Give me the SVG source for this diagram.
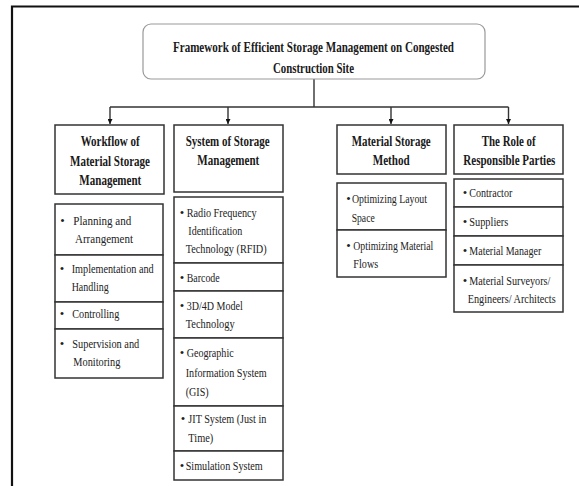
<svg xmlns="http://www.w3.org/2000/svg" width="579" height="486" viewBox="0 0 579 486">
<defs>
<style>
.frame{fill:none;stroke:#111;stroke-width:2.2}
.title{fill:#fff;stroke:#999;stroke-width:1.2}
.box{fill:#fff;stroke:#333;stroke-width:1.5}
.hd{font-family:"Liberation Serif","Times New Roman",serif;font-weight:bold;font-size:14.5px;fill:#1a1a1a}
.tx{font-family:"Liberation Serif","Times New Roman",serif;font-size:12.8px;fill:#222}
.bl{font-family:"Liberation Serif","Times New Roman",serif;font-size:12.8px;fill:#222;text-anchor:middle}
.ln{fill:none;stroke:#333;stroke-width:1.4}
</style>
<marker id="arr" viewBox="0 0 8 8" refX="8" refY="4" markerWidth="5" markerHeight="5" orient="auto" markerUnits="userSpaceOnUse">
<path d="M0,0 L8,4 L0,8 z" fill="#111"/>
</marker>
</defs>
<rect x="0" y="0" width="579" height="486" fill="#fff"/>
<path class="frame" d="M12,486 V6.5 H579"/>

<g id="connectors">
<path class="ln" d="M314,79 V107"/>
<path class="ln" d="M110,107 H508.5"/>
<path class="ln" d="M110,107 V124" marker-end="url(#arr)"/>
<path class="ln" d="M228,107 V124" marker-end="url(#arr)"/>
<path class="ln" d="M391,107 V124" marker-end="url(#arr)"/>
<path class="ln" d="M508.5,107 V124" marker-end="url(#arr)"/>
</g>

<g id="title">
<rect class="title" x="143" y="24" width="342" height="55" rx="8"/>
<text class="hd" x="173" y="52" textLength="281" lengthAdjust="spacingAndGlyphs">Framework of Efficient Storage Management on Congested</text>
<text class="hd" x="273" y="72.5" textLength="81" lengthAdjust="spacingAndGlyphs">Construction Site</text>
</g>

<g id="workflow">
<rect class="box" x="55" y="125" width="109" height="69"/>
<text class="hd" x="80.7" y="145.5" textLength="59" lengthAdjust="spacingAndGlyphs">Workflow of</text>
<text class="hd" x="70" y="165.5" textLength="80" lengthAdjust="spacingAndGlyphs">Material Storage</text>
<text class="hd" x="79.3" y="184.5" textLength="62" lengthAdjust="spacingAndGlyphs">Management</text>
</g>
<g id="workflow-items">
<rect class="box" x="55" y="204" width="108" height="51"/>
<rect class="box" x="55" y="255" width="108" height="47"/>
<rect class="box" x="55" y="302" width="108" height="27"/>
<rect class="box" x="55" y="329" width="108" height="49"/>
<text class="bl" x="62.5" y="225">•</text>
<text class="tx" x="73.3" y="225" textLength="58" lengthAdjust="spacingAndGlyphs">Planning and</text>
<text class="tx" x="75" y="243.3" textLength="58" lengthAdjust="spacingAndGlyphs">Arrangement</text>
<text class="bl" x="62" y="272.7">•</text>
<text class="tx" x="71.7" y="272.7" textLength="82" lengthAdjust="spacingAndGlyphs">Implementation and</text>
<text class="tx" x="71.7" y="290.7" textLength="37" lengthAdjust="spacingAndGlyphs">Handling</text>
<text class="bl" x="62" y="318.3">•</text>
<text class="tx" x="72.3" y="318.3" textLength="47" lengthAdjust="spacingAndGlyphs">Controlling</text>
<text class="bl" x="62" y="347.7">•</text>
<text class="tx" x="72.3" y="347.7" textLength="67" lengthAdjust="spacingAndGlyphs">Supervision and</text>
<text class="tx" x="73.3" y="365.7" textLength="47" lengthAdjust="spacingAndGlyphs">Monitoring</text>
</g>

<g id="system">
<rect class="box" x="174" y="125" width="109" height="67"/>
<text class="hd" x="185.7" y="145.5" textLength="84" lengthAdjust="spacingAndGlyphs">System of Storage</text>
<text class="hd" x="197.3" y="165" textLength="62" lengthAdjust="spacingAndGlyphs">Management</text>
</g>
<g id="system-items">
<rect class="box" x="174" y="197" width="109" height="66"/>
<rect class="box" x="174" y="263" width="109" height="28"/>
<rect class="box" x="174" y="291" width="109" height="47"/>
<rect class="box" x="174" y="338" width="109" height="68"/>
<rect class="box" x="174" y="406" width="109" height="45"/>
<rect class="box" x="174" y="451" width="109" height="29"/>
<text class="bl" x="182" y="216.7">•</text>
<text class="tx" x="186.7" y="216.7" textLength="70" lengthAdjust="spacingAndGlyphs">Radio Frequency</text>
<text class="tx" x="188.3" y="235" textLength="54" lengthAdjust="spacingAndGlyphs">Identification</text>
<text class="tx" x="185.7" y="253.3" textLength="81" lengthAdjust="spacingAndGlyphs">Technology (RFID)</text>
<text class="bl" x="182" y="281.7">•</text>
<text class="tx" x="186.7" y="281.7" textLength="33" lengthAdjust="spacingAndGlyphs">Barcode</text>
<text class="bl" x="182" y="310">•</text>
<text class="tx" x="186.7" y="310" textLength="56" lengthAdjust="spacingAndGlyphs">3D/4D Model</text>
<text class="tx" x="185.7" y="328.3" textLength="49" lengthAdjust="spacingAndGlyphs">Technology</text>
<text class="bl" x="182" y="357.3">•</text>
<text class="tx" x="186.7" y="357.3" textLength="47" lengthAdjust="spacingAndGlyphs">Geographic</text>
<text class="tx" x="185.7" y="376.7" textLength="81" lengthAdjust="spacingAndGlyphs">Information System</text>
<text class="tx" x="185.7" y="395.7" textLength="23" lengthAdjust="spacingAndGlyphs">(GIS)</text>
<text class="bl" x="183" y="423.3">•</text>
<text class="tx" x="188.3" y="423.3" textLength="78" lengthAdjust="spacingAndGlyphs">JIT System (Just in</text>
<text class="tx" x="188.3" y="441.7" textLength="25" lengthAdjust="spacingAndGlyphs">Time)</text>
<text class="bl" x="182" y="470">•</text>
<text class="tx" x="185.7" y="470" textLength="77" lengthAdjust="spacingAndGlyphs">Simulation System</text>
</g>

<g id="method">
<rect class="box" x="337" y="125" width="109" height="49"/>
<text class="hd" x="351.7" y="146" textLength="79" lengthAdjust="spacingAndGlyphs">Material Storage</text>
<text class="hd" x="372.7" y="165" textLength="37" lengthAdjust="spacingAndGlyphs">Method</text>
</g>
<g id="method-items">
<rect class="box" x="337" y="183" width="109" height="47"/>
<rect class="box" x="337" y="230" width="109" height="47"/>
<text class="bl" x="348.5" y="203.3">•</text>
<text class="tx" x="352" y="203.3" textLength="75" lengthAdjust="spacingAndGlyphs">Optimizing Layout</text>
<text class="tx" x="351.7" y="221.7" textLength="23" lengthAdjust="spacingAndGlyphs">Space</text>
<text class="bl" x="348.5" y="250">•</text>
<text class="tx" x="353.3" y="250" textLength="80" lengthAdjust="spacingAndGlyphs">Optimizing Material</text>
<text class="tx" x="353.3" y="268.3" textLength="25" lengthAdjust="spacingAndGlyphs">Flows</text>
</g>

<g id="parties">
<rect class="box" x="454" y="125" width="109" height="49"/>
<text class="hd" x="481.7" y="146" textLength="54" lengthAdjust="spacingAndGlyphs">The Role of</text>
<text class="hd" x="463.3" y="165" textLength="92" lengthAdjust="spacingAndGlyphs">Responsible Parties</text>
</g>
<g id="parties-items">
<rect class="box" x="454" y="179" width="109" height="28"/>
<rect class="box" x="454" y="207" width="109" height="29"/>
<rect class="box" x="454" y="236" width="109" height="29"/>
<rect class="box" x="454" y="265" width="109" height="47"/>
<text class="bl" x="465" y="197.3">•</text>
<text class="tx" x="469.3" y="197.3" textLength="43" lengthAdjust="spacingAndGlyphs">Contractor</text>
<text class="bl" x="465" y="226">•</text>
<text class="tx" x="469.3" y="226" textLength="39" lengthAdjust="spacingAndGlyphs">Suppliers</text>
<text class="bl" x="465" y="255">•</text>
<text class="tx" x="469.3" y="255" textLength="72" lengthAdjust="spacingAndGlyphs">Material Manager</text>
<text class="bl" x="465" y="285">•</text>
<text class="tx" x="469.3" y="285" textLength="81" lengthAdjust="spacingAndGlyphs">Material Surveyors/</text>
<text class="tx" x="467.7" y="303.3" textLength="88" lengthAdjust="spacingAndGlyphs">Engineers/ Architects</text>
</g>
</svg>
